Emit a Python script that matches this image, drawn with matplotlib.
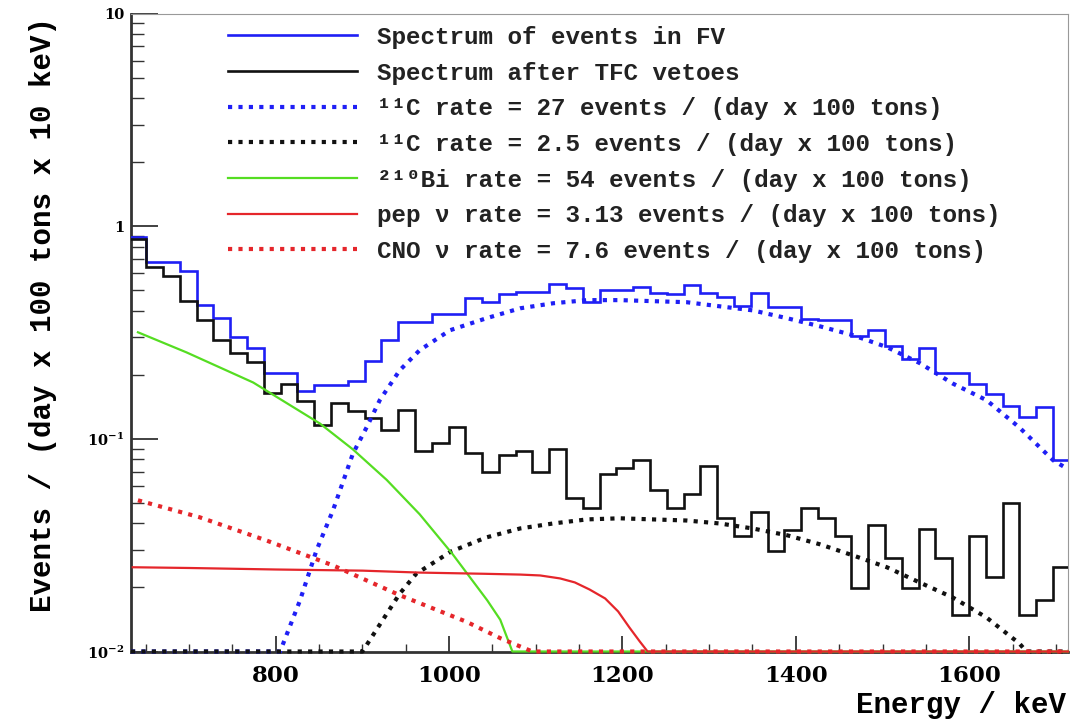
import numpy as np
import matplotlib
matplotlib.use('Agg')
import matplotlib.pyplot as plt

plt.rcParams['mathtext.default'] = 'regular'

# ---------------- data ----------------
bin_lo, bin_hi = 631.3, 1716.0          # histogram range (keV)

fv_spectrum = [0.888, 0.677, 0.677, 0.614, 0.425, 0.369, 0.300, 0.267, 0.203, 0.203,
               0.167, 0.179, 0.179, 0.187, 0.232, 0.291, 0.353, 0.353, 0.385, 0.385,
               0.458, 0.439, 0.479, 0.489, 0.489, 0.533, 0.511, 0.439, 0.500, 0.500,
               0.516, 0.484, 0.479, 0.528, 0.484, 0.463, 0.420, 0.484, 0.416, 0.416,
               0.365, 0.361, 0.361, 0.304, 0.324, 0.272, 0.237, 0.267, 0.203, 0.203,
               0.182, 0.162, 0.142, 0.126, 0.141, 0.0792]

tfc_spectrum = [0.869, 0.641, 0.582, 0.444, 0.361, 0.291, 0.253, 0.229, 0.164, 0.182,
                0.150, 0.116, 0.148, 0.135, 0.125, 0.110, 0.136, 0.0873, 0.0952, 0.114,
                0.0855, 0.0696, 0.0836, 0.0873, 0.0696, 0.0892, 0.0525, 0.0471, 0.0681, 0.0726,
                0.0792, 0.0572, 0.0471, 0.0548, 0.0742, 0.0423, 0.0348, 0.0451, 0.0296, 0.0371,
                0.0471, 0.0423, 0.0348, 0.0198, 0.0392, 0.0274, 0.0198, 0.0375, 0.0274, 0.0148,
                0.0348, 0.0223, 0.0497, 0.0148, 0.0174, 0.0249]

c11_high_E = [633, 805, 828, 847, 866, 889, 905, 920, 943, 966, 1001, 1043, 1082, 1120,
              1159, 1197, 1235, 1274, 1312, 1350, 1390, 1428, 1466, 1505, 1543, 1581,
              1620, 1658, 1697, 1714]
c11_high_v = [0.01, 0.01, 0.0174, 0.0299, 0.0461, 0.0852, 0.1136, 0.152, 0.210, 0.261,
              0.324, 0.369, 0.411, 0.434, 0.449, 0.449, 0.444, 0.439, 0.420, 0.402,
              0.369, 0.338, 0.307, 0.270, 0.227, 0.182, 0.152, 0.113, 0.0792, 0.072]

c11_low_E = [633, 900, 943, 962, 1002, 1043, 1082, 1120, 1159, 1197, 1235, 1274, 1312,
             1350, 1390, 1428, 1466, 1505, 1543, 1581, 1620, 1658, 1666, 1714]
c11_low_v = [0.01, 0.01, 0.0187, 0.0232, 0.0295, 0.0344, 0.0379, 0.0400, 0.0418, 0.0423,
             0.0418, 0.0413, 0.0400, 0.0379, 0.0352, 0.0319, 0.0283, 0.0249, 0.0211,
             0.01795, 0.01445, 0.0109, 0.01, 0.01]

bi210_E = [641, 697, 774, 851, 889, 928, 966, 1004, 1044, 1059, 1073, 1714]
bi210_v = [0.317, 0.255, 0.184, 0.118, 0.0892, 0.0641, 0.0442, 0.0287, 0.0174, 0.0141,
           0.01, 0.01]

pep_E = [635, 700, 800, 900, 966, 1040, 1082, 1105, 1128, 1145, 1162, 1180, 1195, 1208,
         1220, 1229, 1714]
pep_v = [0.0249, 0.0247, 0.0243, 0.0240, 0.0235, 0.0232, 0.0230, 0.02278, 0.02206,
         0.02113, 0.01957, 0.01776, 0.01543, 0.01297, 0.01114, 0.01, 0.01]

cno_E = [641, 712, 789, 866, 943, 1020, 1060, 1096, 1714]
cno_v = [0.0514, 0.0428, 0.0333, 0.0254, 0.0184, 0.0138, 0.0115, 0.01, 0.01]

labels = ['Spectrum of events in FV',
          'Spectrum after TFC vetoes',
          '\u00b9\u00b9C rate = 27 events / (day x 100 tons)',
          '\u00b9\u00b9C rate = 2.5 events / (day x 100 tons)',
          '\u00b2\u00b9\u2070Bi rate = 54 events / (day x 100 tons)',
          'pep \u03bd rate = 3.13 events / (day x 100 tons)',
          'CNO \u03bd rate = 7.6 events / (day x 100 tons)']

x_major = [800, 1000, 1200, 1400, 1600]
x_major_labels = ['800', '1000', '1200', '1400', '1600']
x_minor = [650, 700, 750, 850, 900, 950, 1050, 1100, 1150, 1250, 1300, 1350,
           1450, 1500, 1550, 1650, 1700]
y_major = [0.01, 0.1, 1, 10]
y_major_labels = [r'$10^{-2}$', r'$10^{-1}$', '1', '10']

# ---------------- style ----------------
BLUE = '#1f1ff5'
BLACK = '#111111'
GREEN = '#55dd22'
RED = '#e5262b'
DOT = (0, (1, 1.5))

fig = plt.figure(figsize=(10.71, 7.19), dpi=100)
ax = fig.add_axes([131 / 1071, 1 - 651.5 / 719, (1068 - 131) / 1071, (651.5 - 13.5) / 719])
ax.set_yscale('log')

edges = np.linspace(bin_lo, bin_hi, len(fv_spectrum) + 1)
h1 = ax.stairs(fv_spectrum, edges, baseline=None, color=BLUE, lw=1.9, zorder=3,
               label=labels[0])
h2 = ax.stairs(tfc_spectrum, edges, baseline=None, color=BLACK, lw=1.9, zorder=3,
               label=labels[1])

l3, = ax.plot(c11_high_E, c11_high_v, color=BLUE, lw=3.0, ls=DOT, clip_on=False, zorder=4,
              label=labels[2])
l4, = ax.plot(c11_low_E, c11_low_v, color=BLACK, lw=3.0, ls=DOT, clip_on=False, zorder=4,
              label=labels[3])
l5, = ax.plot(bi210_E, bi210_v, color=GREEN, lw=1.6, clip_on=False, zorder=4,
              label=labels[4])
l7, = ax.plot(cno_E, cno_v, color=RED, lw=3.0, ls=DOT, clip_on=False, zorder=5,
              label=labels[6])
l6, = ax.plot(pep_E, pep_v, color=RED, lw=1.6, clip_on=False, zorder=6,
              label=labels[5])

ax.set_xlim(633, 1714)
ax.set_ylim(0.01, 10)

ax.set_xticks(x_major, x_major_labels, fontfamily='DejaVu Serif', fontweight='bold',
              fontsize=16.5)
ax.set_xticks(x_minor, minor=True)
ax.set_yticks(y_major, y_major_labels, fontfamily='DejaVu Serif', fontweight='bold',
              fontsize=10.5)
ax.tick_params(axis='x', which='major', direction='in', length=11.5, width=1.3, pad=10,
               color='#333333')
ax.tick_params(axis='x', which='minor', direction='in', length=5.5, width=1.0,
               color='#333333')
ax.tick_params(axis='y', which='major', direction='in', length=19.5, width=1.3, pad=5,
               color='#333333')
ax.tick_params(axis='y', which='minor', direction='in', length=9.5, width=1.0,
               color='#333333', labelleft=False)

for s in ['left', 'bottom']:
    ax.spines[s].set_linewidth(2.0)
    ax.spines[s].set_color('#333333')
for s in ['top', 'right']:
    ax.spines[s].set_linewidth(0.8)
    ax.spines[s].set_color('#999999')

mono = ['Liberation Mono', 'DejaVu Sans Mono']
fig.text(43 / 1071, 1 - 315 / 719, 'Events / (day x 100 tons x 10 keV)', rotation=90,
         ha='center', va='center', fontsize=21, fontweight='bold', family=mono)
fig.text(1066 / 1071, 1 - 705 / 719, 'Energy / keV', ha='right', va='center',
         fontsize=21, fontweight='bold', family=mono)

leg = ax.legend(handles=[h1, h2, l3, l4, l5, l6, l7], loc='upper left',
                bbox_to_anchor=((228 - 131) / 937, 1 - (26 - 13.5) / 638),
                frameon=False, borderpad=0, borderaxespad=0,
                handlelength=5.3, handletextpad=0.85, labelspacing=0.52,
                prop={'family': mono, 'weight': 'bold', 'size': 17.5})
for t in leg.get_texts():
    t.set_color('#222222')

fig.savefig('out.png', dpi=100)
